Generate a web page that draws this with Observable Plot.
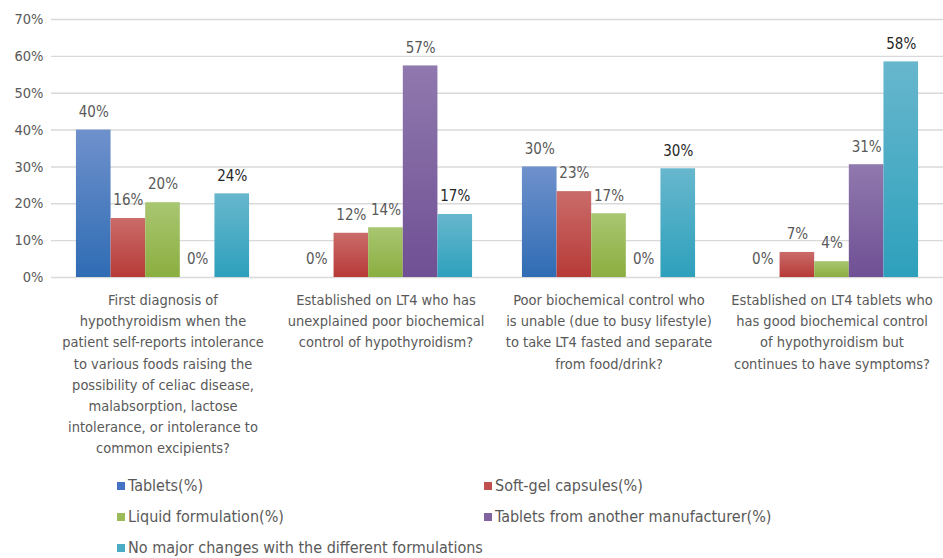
<!DOCTYPE html>
<html><head><meta charset="utf-8">
<script src="https://cdn.jsdelivr.net/npm/d3@7"></script>
<script src="https://cdn.jsdelivr.net/npm/@observablehq/plot@0.6"></script>
<style>
body{margin:0;background:#fff;}
#legend{display:grid;grid-template-columns:367px auto;padding-left:117px;font-family:"Liberation Sans Narrow","DejaVu Sans Condensed",sans-serif;font-size:16px;color:#595959;}
.item{height:31px;display:flex;align-items:center;}
.sw{width:8px;height:8px;margin-right:3px;flex:none;}
</style></head><body><div id="chart"></div><div id="legend"></div>
<script>
const categories = [
  "First diagnosis of\nhypothyroidism when the\npatient self-reports intolerance\nto various foods raising the\npossibility of celiac disease,\nmalabsorption, lactose\nintolerance, or intolerance to\ncommon excipients?",
  "Established on LT4 who has\nunexplained poor biochemical\ncontrol of hypothyroidism?",
  "Poor biochemical control who\nis unable (due to busy lifestyle)\nto take LT4 fasted and separate\nfrom food/drink?",
  "Established on LT4 tablets who\nhas good biochemical control\nof hypothyroidism but\ncontinues to have symptoms?"
];
const series = ["Tablets(%)", "Soft-gel capsules(%)", "Liquid formulation(%)", "Tablets from another manufacturer(%)", "No major changes with the different formulations"];
const tablets   = [40, 0, 30, 0];
const softgel   = [16, 12, 23.3, 6.8];
const liquid    = [20.3, 13.5, 17.3, 4.3];
const another   = [0, 57.4, 0, 30.6];
const nochange  = [22.7, 17.1, 29.5, 58.5];
const tabletsLbl  = ["40%", "0%", "30%", "0%"];
const softgelLbl  = ["16%", "12%", "23%", "7%"];
const liquidLbl   = ["20%", "14%", "17%", "4%"];
const anotherLbl  = ["0%", "57%", "0%", "31%"];
const nochangeLbl = ["24%", "17%", "30%", "58%"];
const yTicks = [0, 10, 20, 30, 40, 50, 60, 70];

const colors = ["#4472c4", "#c0504d", "#9bbb59", "#8064a2", "#4bacc6"];
const grads = [
  ["#6f91cc", "#2f6cb4"],
  ["#ca6c6a", "#b73a37"],
  ["#a9c671", "#8bae40"],
  ["#9079ae", "#6f5094"],
  ["#67b7cd", "#2ea0bc"]
];
const labelColors = ["#595959", "#595959", "#595959", "#595959", "#262626"];

const valueArrays = [tablets, softgel, liquid, another, nochange];
const labelArrays = [tabletsLbl, softgelLbl, liquidLbl, anotherLbl, nochangeLbl];
const data = [];
categories.forEach((c, i) => series.forEach((s, j) => data.push({cat: c, series: s, si: j, value: valueArrays[j][i], label: labelArrays[j][i]})));

const narrow = '"Liberation Sans Narrow","DejaVu Sans Condensed",sans-serif';
const marks = [
  Plot.gridY(yTicks, {stroke: "#d9d9d9", strokeOpacity: 1, strokeWidth: 1.4}),
  Plot.axisY(yTicks, {tickSize: 0, tickPadding: 8, tickFormat: d => d + "%", fontSize: 14.5, fill: "#595959", fontFamily: narrow, label: null}),
  Plot.axisFx({anchor: "bottom", tickSize: 0, tickPadding: 13, fontSize: 14.5, lineHeight: 1.45, fill: "#595959", fontFamily: narrow, label: null})
];
series.forEach((s, j) => {
  marks.push(Plot.barY(data.filter(d => d.si === j), {fx: "cat", x: "series", y: "value", fill: `url(#grad${j})`, inset: 0}));
});
series.forEach((s, j) => {
  marks.push(Plot.text(data.filter(d => d.si === j), {fx: "cat", x: "series", y: "value", text: "label", dy: -18, fill: labelColors[j], fontSize: 15, fontFamily: narrow}));
});

const chart = Plot.plot({
  width: 943, height: 470,
  marginLeft: 50, marginRight: 0, marginTop: 19, marginBottom: 193,
  style: {background: "#fff", overflow: "visible"},
  fx: {domain: categories, padding: 0, axis: null, label: null},
  x: {domain: series, paddingInner: 0, paddingOuter: 0.72, round: false, axis: null},
  y: {domain: [0, 70], axis: null},
  marks
});
const ns = "http://www.w3.org/2000/svg";
const defs = document.createElementNS(ns, "defs");
grads.forEach((g, j) => {
  const lg = document.createElementNS(ns, "linearGradient");
  lg.setAttribute("id", "grad" + j);
  lg.setAttribute("x1", "0"); lg.setAttribute("y1", "0"); lg.setAttribute("x2", "0"); lg.setAttribute("y2", "1");
  [[0, g[0]], [1, g[1]]].forEach(([o, c]) => {
    const st = document.createElementNS(ns, "stop");
    st.setAttribute("offset", o); st.setAttribute("stop-color", c);
    lg.appendChild(st);
  });
  defs.appendChild(lg);
});
chart.insertBefore(defs, chart.firstChild);
document.getElementById("chart").appendChild(chart);

const legend = document.getElementById("legend");
series.forEach((s, j) => {
  const it = document.createElement("div"); it.className = "item";
  const sw = document.createElement("span"); sw.className = "sw"; sw.style.background = colors[j];
  const tx = document.createElement("span"); tx.textContent = s;
  it.appendChild(sw); it.appendChild(tx); legend.appendChild(it);
});
</script></body></html>
